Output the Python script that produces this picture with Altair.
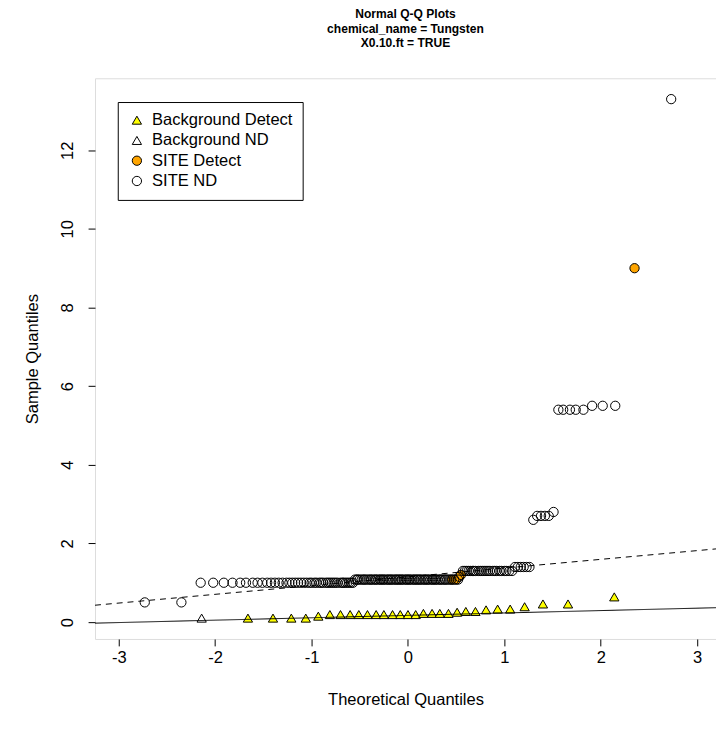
import altair as alt
import pandas as pd

FONT = "Liberation Sans"

# ---- Background group (31 points): theoretical quantile, sample value, status
bg_x = [-2.14, -1.66, -1.40, -1.21, -1.06, -0.93, -0.81, -0.70, -0.60, -0.51,
        -0.42, -0.33, -0.25, -0.16, -0.08, 0.00, 0.08, 0.16, 0.25, 0.33,
        0.42, 0.51, 0.60, 0.70, 0.81, 0.93, 1.06, 1.21, 1.40, 1.66, 2.14]
bg_y = [0.10, 0.10, 0.10, 0.10, 0.10, 0.15, 0.19, 0.19, 0.19, 0.19,
        0.19, 0.19, 0.19, 0.19, 0.19, 0.19, 0.19, 0.22, 0.22, 0.22,
        0.22, 0.25, 0.27, 0.27, 0.31, 0.33, 0.33, 0.39, 0.46, 0.46, 0.64]
bg_nd_index = [1]  # 1-based positions drawn as non-detects

# ---- SITE group (160 points)
site_x = [-2.73, -2.35, -2.15, -2.02, -1.91, -1.82, -1.74, -1.68, -1.61, -1.56,
          -1.51, -1.46, -1.42, -1.38, -1.34, -1.30, -1.26, -1.23, -1.20, -1.17,
          -1.14, -1.11, -1.08, -1.05, -1.02, -1.00, -0.97, -0.95, -0.92, -0.90,
          -0.88, -0.85, -0.83, -0.81, -0.79, -0.77, -0.75, -0.73, -0.70, -0.68,
          -0.67, -0.65, -0.63, -0.61, -0.59, -0.57, -0.55, -0.53, -0.52, -0.50,
          -0.48, -0.46, -0.45, -0.43, -0.41, -0.39, -0.38, -0.36, -0.34, -0.33,
          -0.31, -0.29, -0.28, -0.26, -0.25, -0.23, -0.21, -0.20, -0.18, -0.17,
          -0.15, -0.13, -0.12, -0.10, -0.09, -0.07, -0.06, -0.04, -0.02, -0.01,
          0.01, 0.02, 0.04, 0.06, 0.07, 0.09, 0.10, 0.12, 0.13, 0.15,
          0.17, 0.18, 0.20, 0.21, 0.23, 0.25, 0.26, 0.28, 0.29, 0.31,
          0.33, 0.34, 0.36, 0.38, 0.39, 0.41, 0.43, 0.45, 0.46, 0.48,
          0.50, 0.52, 0.53, 0.55, 0.57, 0.59, 0.61, 0.63, 0.65, 0.67,
          0.68, 0.70, 0.73, 0.75, 0.77, 0.79, 0.81, 0.83, 0.85, 0.88,
          0.90, 0.92, 0.95, 0.97, 1.00, 1.02, 1.05, 1.08, 1.11, 1.14,
          1.17, 1.20, 1.23, 1.26, 1.30, 1.34, 1.38, 1.42, 1.46, 1.51,
          1.56, 1.61, 1.68, 1.74, 1.82, 1.91, 2.02, 2.15, 2.35, 2.73]
site_y = [0.5, 0.5, 1.0, 1.0, 1.0, 1.0, 1.0, 1.0, 1.0, 1.0,
          1.0, 1.0, 1.0, 1.0, 1.0, 1.0, 1.0, 1.0, 1.0, 1.0,
          1.0, 1.0, 1.0, 1.0, 1.0, 1.0, 1.0, 1.0, 1.0, 1.0,
          1.0, 1.0, 1.0, 1.0, 1.0, 1.0, 1.0, 1.0, 1.0, 1.0,
          1.0, 1.0, 1.0, 1.0, 1.0, 1.0, 1.08, 1.08, 1.08, 1.08,
          1.08, 1.08, 1.08, 1.08, 1.08, 1.08, 1.08, 1.08, 1.08, 1.08,
          1.08, 1.08, 1.08, 1.08, 1.08, 1.08, 1.08, 1.08, 1.08, 1.08,
          1.08, 1.08, 1.08, 1.08, 1.08, 1.08, 1.08, 1.08, 1.08, 1.08,
          1.08, 1.08, 1.08, 1.08, 1.08, 1.08, 1.08, 1.08, 1.08, 1.08,
          1.08, 1.08, 1.08, 1.08, 1.08, 1.08, 1.08, 1.08, 1.08, 1.08,
          1.08, 1.08, 1.08, 1.08, 1.08, 1.08, 1.08, 1.08, 1.08, 1.08,
          1.08, 1.08, 1.15, 1.2, 1.3, 1.3, 1.3, 1.3, 1.3, 1.3,
          1.3, 1.3, 1.3, 1.3, 1.3, 1.3, 1.3, 1.3, 1.3, 1.3,
          1.3, 1.3, 1.3, 1.3, 1.3, 1.3, 1.3, 1.3, 1.4, 1.4,
          1.4, 1.4, 1.4, 1.4, 2.6, 2.7, 2.7, 2.7, 2.7, 2.8,
          5.4, 5.4, 5.4, 5.4, 5.4, 5.5, 5.5, 5.5, 9.0, 13.3]
site_detect_index = [109, 111, 114, 159]  # 1-based positions that are detects

# ---- Fitted Q-Q reference lines (intercept, slope)
bg_line = (0.17, 0.061)
site_line = (1.15, 0.2224)

x_domain = [-3.246, 3.195]
y_domain = [-0.43, 13.83]
x_ticks = [-3, -2, -1, 0, 1, 2, 3]
y_ticks = [0, 2, 4, 6, 8, 10, 12]

groups = ["Background Detect", "Background ND", "SITE Detect", "SITE ND"]
shapes = ["triangle-up", "triangle-up", "circle", "circle"]
fills = ["#FFFF00", "transparent", "#FFA500", "transparent"]
strokes = ["black", "black", "black", "black"]
sizes = [88, 88, 50, 50]

rows = []
for i, (x, y) in enumerate(zip(bg_x, bg_y), start=1):
    nd = i in bg_nd_index
    rows.append({"x": x, "y": y, "group": "Background ND" if nd else "Background Detect", "z": 1 if nd else 0})
for i, (x, y) in enumerate(zip(site_x, site_y), start=1):
    det = i in site_detect_index
    rows.append({"x": x, "y": y, "group": "SITE Detect" if det else "SITE ND", "z": 0 if det else 1})
df = pd.DataFrame(rows)

line_rows = []
for name, (a, b) in [("bg", bg_line), ("site", site_line)]:
    for x in x_domain:
        line_rows.append({"x": x, "y": a + b * x, "line": name})
line_df = pd.DataFrame(line_rows)

xscale = alt.Scale(domain=x_domain, nice=False, zero=False)
yscale = alt.Scale(domain=y_domain, nice=False, zero=False)

legend = alt.Legend(
    title=None, orient="none", legendX=23, legendY=24,
    strokeColor="black", fillColor="white", padding=10,
    labelFont=FONT, labelFontSize=16.7, labelColor="black",
    labelOffset=7, symbolOffset=1, rowPadding=2.5,
    symbolStrokeWidth=1,
)

xaxis = alt.Axis(values=x_ticks, grid=False, domain=False, tickColor="black", tickSize=7,
                 labelExpr="'' + datum.value",
                 labelFont=FONT, labelFontSize=16.7, labelColor="black", labelPadding=4,
                 title="Theoretical Quantiles", titleFont=FONT, titleFontSize=16.7,
                 titleFontWeight="normal", titleColor="black", titlePadding=26)
yaxis = alt.Axis(values=y_ticks, grid=False, domain=False, tickColor="black", tickSize=7,
                 labelExpr="'' + datum.value",
                 labelFont=FONT, labelFontSize=16.7, labelColor="black", labelPadding=12,
                 labelAngle=270,
                 title="Sample Quantiles", titleFont=FONT, titleFontSize=16.7,
                 titleFontWeight="normal", titleColor="black", titlePadding=18)

points = alt.Chart(df).mark_point(filled=False, strokeWidth=1, opacity=1).encode(
    x=alt.X("x:Q", scale=xscale, axis=xaxis),
    y=alt.Y("y:Q", scale=yscale, axis=yaxis),
    shape=alt.Shape("group:N", scale=alt.Scale(domain=groups, range=shapes), legend=legend),
    fill=alt.Fill("group:N", scale=alt.Scale(domain=groups, range=fills), legend=legend),
    stroke=alt.Stroke("group:N", scale=alt.Scale(domain=groups, range=strokes), legend=legend),
    size=alt.Size("group:N", scale=alt.Scale(domain=groups, range=sizes), legend=legend),
    order=alt.Order("z:Q"),
)

lines = alt.Chart(line_df).mark_line(color="black", strokeWidth=1, clip=True).encode(
    x=alt.X("x:Q", scale=xscale),
    y=alt.Y("y:Q", scale=yscale),
    detail="line:N",
    strokeDash=alt.StrokeDash("line:N", scale=alt.Scale(domain=["bg", "site"], range=[[1, 0], [6, 5]]), legend=None),
)

chart = alt.layer(points, lines).properties(
    width=628, height=567,
    autosize=alt.AutoSizeParams(type="none"),
    padding={"left": 88, "top": 67, "right": 0, "bottom": 90},
    title=alt.TitleParams(
        text=["Normal Q-Q Plots", "chemical_name = Tungsten", "X0.10.ft = TRUE"],
        font=FONT, fontSize=12.2, fontWeight="bold", color="black",
        anchor="middle", lineHeight=14.7, offset=29,
    ),
).configure_view(stroke="black", strokeWidth=1).configure(background="white")

chart.save("out.html", embed_options={"renderer": "svg", "actions": False})
